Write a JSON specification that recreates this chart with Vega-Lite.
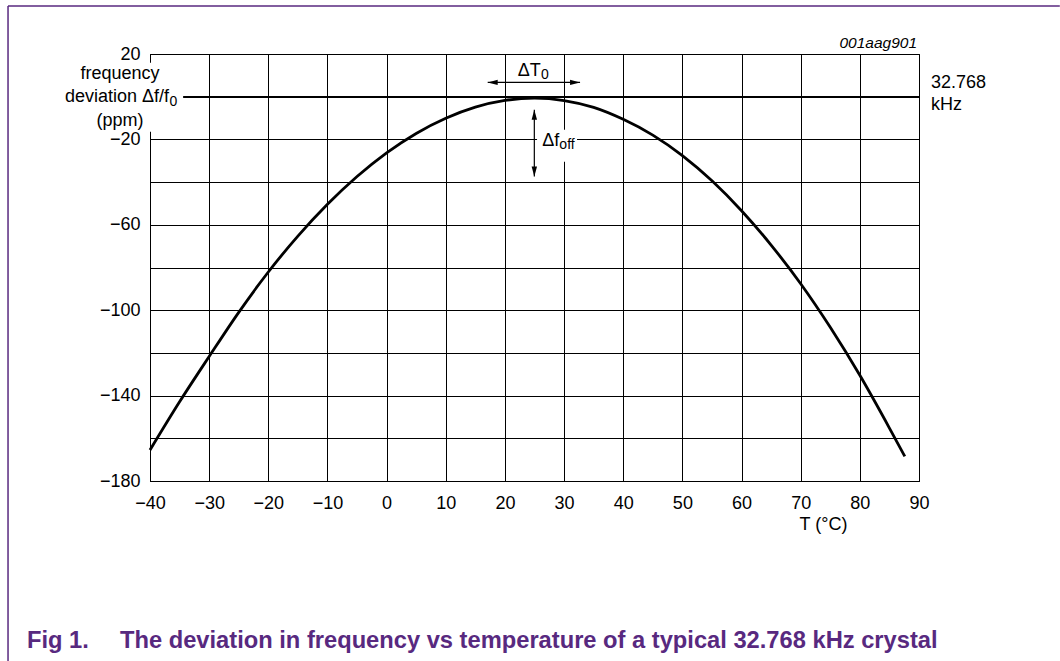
{
  "$schema": "https://vega.github.io/schema/vega-lite/v6.json",
  "width": 769,
  "height": 427,
  "autosize": {"type": "none"},
  "padding": {"left": 150, "top": 54, "right": 141, "bottom": 180},
  "background": "white",
  "config": {
    "view": {"stroke": "#000", "strokeWidth": 1},
    "font": "Liberation Sans"
  },
  "encoding": {
    "x": {
      "field": "T", "type": "quantitative",
      "scale": {"domain": [-40, 90], "nice": false, "zero": false},
      "axis": {
        "values": [-40, -30, -20, -10, 0, 10, 20, 30, 40, 50, 60, 70, 80, 90],
        "grid": true, "gridColor": "#000", "gridWidth": 1, "gridOpacity": 1,
        "ticks": false, "tickSize": 0,
        "domainColor": "#000", "domainWidth": 1,
        "labelFont": "Liberation Sans", "labelFontSize": 18, "labelColor": "#000",
        "labelPadding": 13, "labelFlush": false, "labelOverlap": false, "labelBound": false,
        "title": "T (°C)", "titleFont": "Liberation Sans", "titleFontSize": 18,
        "titleFontWeight": "normal", "titleColor": "#000",
        "titleX": 673, "titleY": 34, "titleAlign": "center", "titleBaseline": "top"
      }
    },
    "y": {
      "field": "v", "type": "quantitative",
      "scale": {"domain": [-180, 20], "nice": false, "zero": false},
      "axis": {
        "values": [-180, -160, -140, -120, -100, -80, -60, -40, -20, 0, 20],
        "grid": true, "gridColor": "#000", "gridWidth": 1, "gridOpacity": 1,
        "ticks": false, "tickSize": 0,
        "domainColor": "#000", "domainWidth": 1,
        "labelFont": "Liberation Sans", "labelFontSize": 18, "labelColor": "#000",
        "labelPadding": 10, "labelFlush": false, "labelOverlap": false, "labelBound": false,
        "labelExpr": "datum.value % 40 == 0 ? '' : datum.label",
        "title": null
      }
    }
  },
  "layer": [
    {
      "data": {"values": [{"T": -40, "T2": 90, "v": 0, "v2": 0}]},
      "mark": {"type": "rule", "color": "#000", "strokeWidth": 1.6},
      "encoding": {"x2": {"field": "T2"}, "y2": {"field": "v2"}}
    },
    {
      "data": {"values": [
        {"T": -55.2, "T2": -34.4, "v": 15.9, "v2": -16.4},
        {"T": 25.43, "T2": 32.19, "v": -15.5, "v2": -30.5}
      ]},
      "mark": {"type": "rect", "fill": "white", "stroke": null},
      "encoding": {"x2": {"field": "T2"}, "y2": {"field": "v2"}}
    },
    {
      "data": {"values": [
        {"T": -40, "v": -165.5}, {"T": -35, "v": -142.9}, {"T": -30, "v": -121.7},
        {"T": -25, "v": -101}, {"T": -20, "v": -82.1}, {"T": -15, "v": -65.3},
        {"T": -10, "v": -50.4}, {"T": -5, "v": -37.4}, {"T": 0, "v": -26.3},
        {"T": 5, "v": -17.2}, {"T": 10, "v": -10.1}, {"T": 15, "v": -4.9},
        {"T": 20, "v": -1.75}, {"T": 25, "v": -0.7}, {"T": 30, "v": -1.8},
        {"T": 35, "v": -5.0}, {"T": 40, "v": -10.6}, {"T": 45, "v": -18.0},
        {"T": 50, "v": -27.6}, {"T": 55, "v": -39.4}, {"T": 60, "v": -53.4},
        {"T": 65, "v": -69.5}, {"T": 70, "v": -87.6}, {"T": 75, "v": -108},
        {"T": 80, "v": -130.5}, {"T": 85, "v": -155.2}, {"T": 87.6, "v": -168.5}
      ]},
      "mark": {"type": "line", "color": "#000", "strokeWidth": 2.8, "interpolate": "monotone"}
    },
    {
      "data": {"values": [
        {"T": 17.09, "T2": 32.7, "v": 6.7, "v2": 6.7},
        {"T": 24.97, "T2": 24.97, "v": -6.1, "v2": -37.4}
      ]},
      "mark": {"type": "rule", "color": "#000", "strokeWidth": 1.2},
      "encoding": {"x2": {"field": "T2"}, "y2": {"field": "v2"}}
    },
    {
      "data": {"values": [
        {"T": 17.09, "v": 6.7, "dir": "left"},
        {"T": 32.7, "v": 6.7, "dir": "right"},
        {"T": 24.97, "v": -6.1, "dir": "up"},
        {"T": 24.97, "v": -37.4, "dir": "down"}
      ]},
      "mark": {"type": "point", "filled": true, "color": "#000", "opacity": 1, "size": 400, "strokeWidth": 0},
      "encoding": {
        "shape": {
          "field": "dir", "type": "nominal", "legend": null,
          "scale": {
            "domain": ["right", "left", "up", "down"],
            "range": ["M0,0L-1,-0.27L-1,0.27Z", "M0,0L1,-0.27L1,0.27Z", "M0,0L-0.27,1L0.27,1Z", "M0,0L-0.27,-1L0.27,-1Z"]
          }
        }
      }
    },
    {
      "data": {"values": [
        {"T": -45.07, "v": 10.5, "txt": "frequency"},
        {"T": -45.07, "v": -11.2, "txt": "(ppm)"}
      ]},
      "mark": {"type": "text", "align": "center", "baseline": "middle", "font": "Liberation Sans", "fontSize": 18, "color": "#000"},
      "encoding": {"text": {"field": "txt"}}
    },
    {
      "data": {"values": [
        {"T": -36.79, "v": 0, "txt": "deviation Δf/f"},
        {"T": 26.05, "v": 11.9, "txt": "ΔT"},
        {"T": 29.18, "v": -20.9, "txt": "Δf"}
      ]},
      "mark": {"type": "text", "align": "right", "baseline": "middle", "font": "Liberation Sans", "fontSize": 18, "color": "#000"},
      "encoding": {"text": {"field": "txt"}}
    },
    {
      "data": {"values": [
        {"T": -36.7, "v": -2.39, "txt": "0"},
        {"T": 26.1, "v": 10.0, "txt": "0"},
        {"T": 29.2, "v": -22.5, "txt": "off"}
      ]},
      "mark": {"type": "text", "align": "left", "baseline": "middle", "font": "Liberation Sans", "fontSize": 14, "color": "#000"},
      "encoding": {"text": {"field": "txt"}}
    },
    {
      "data": {"values": [
        {"T": 92.04, "v": 6.28, "txt": "32.768"},
        {"T": 92.04, "v": -3.89, "txt": "kHz"}
      ]},
      "mark": {"type": "text", "align": "left", "baseline": "middle", "font": "Liberation Sans", "fontSize": 18, "color": "#000"},
      "encoding": {"text": {"field": "txt"}}
    },
    {
      "data": {"values": [{"T": 89.67, "v": 25.06, "txt": "001aag901"}]},
      "mark": {"type": "text", "align": "right", "baseline": "middle", "font": "Liberation Sans", "fontSize": 15.5, "fontStyle": "italic", "color": "#000"},
      "encoding": {"text": {"field": "txt"}}
    },
    {
      "data": {"values": [
        {"T": -60.8, "v": -258.4, "txt": "Fig 1."},
        {"T": -45.07, "v": -258.4, "txt": "The deviation in frequency vs temperature of a typical 32.768 kHz crystal"}
      ]},
      "mark": {"type": "text", "align": "left", "baseline": "alphabetic", "font": "Liberation Sans", "fontSize": 23.7, "fontWeight": "bold", "color": "#58297F"},
      "encoding": {"text": {"field": "txt"}}
    },
    {
      "data": {"values": [
        {"T": -64.0, "T2": 113.8, "v": 42.48, "v2": 42.48},
        {"T": -64.0, "T2": -64.0, "v": 42.48, "v2": -264.3}
      ]},
      "mark": {"type": "rule", "color": "#58297F", "strokeWidth": 1.5},
      "encoding": {"x2": {"field": "T2"}, "y2": {"field": "v2"}}
    }
  ]
}
